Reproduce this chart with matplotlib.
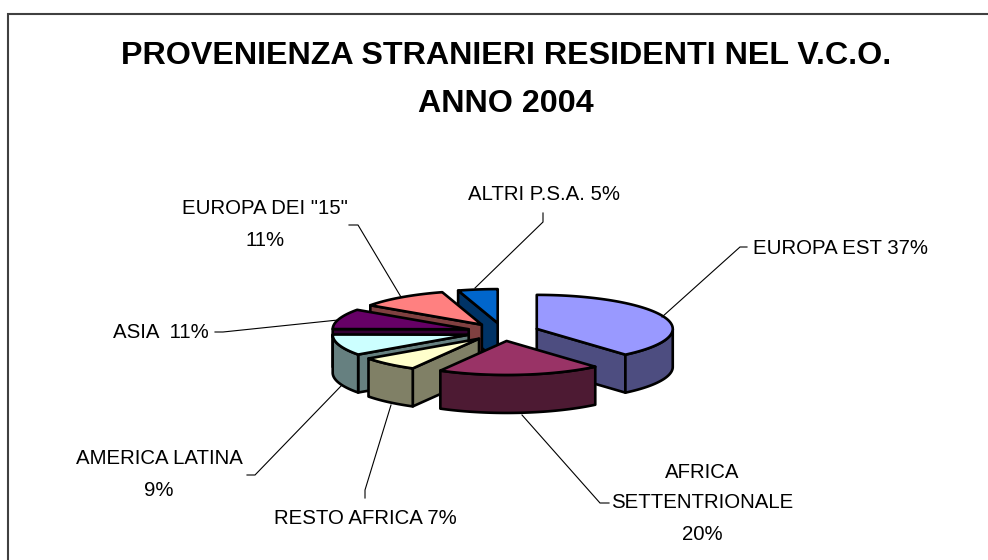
import numpy as np
import matplotlib
matplotlib.use("Agg")
import matplotlib.pyplot as plt

plt.rcParams['font.family'] = ['Liberation Sans', 'DejaVu Sans']

# --- data ---
categories = ['EUROPA EST', 'AFRICA SETTENTRIONALE', 'RESTO AFRICA', 'AMERICA LATINA',
              'ASIA', 'EUROPA DEI "15"', 'ALTRI P.S.A.']
# slice shares as drawn (percent of the circle)
shares = [38.7, 19.4, 7.0, 10.0, 9.6, 10.6, 4.7]
top_colors = ['#9999FF', '#993366', '#FFFFCC', '#CCFFFF', '#660066', '#FF8080', '#0066CC']
side_colors = ['#4D4D80', '#4D1A33', '#808066', '#668080', '#330033', '#804040', '#003366']
label_texts = ['EUROPA EST 37%', 'AFRICA\nSETTENTRIONALE\n20%', 'RESTO AFRICA 7%',
               'AMERICA LATINA\n9%', 'ASIA  11%', 'EUROPA DEI "15"\n11%', 'ALTRI P.S.A. 5%']
title_text = 'PROVENIENZA STRANIERI RESIDENTI NEL V.C.O.\nANNO 2004'

# --- layout (pixels of the 988x560 canvas) ---
CX, CY = 503, 332
RX, RY = 136, 34
DEPTH = 38
EXPLODE = 36
label_xy = [(840.5, 248), (702, 503), (365, 518), (159, 474.5), (160.5, 333), (265, 224.5), (544, 194)]
leaders = [[(662, 317), (740, 247), (747, 247)],
           [(522, 415), (600, 503), (609, 503)],
           [(391, 405), (365, 490), (365, 498)],
           [(342, 385), (255, 475), (247, 475)],
           [(338, 320), (223, 332), (215, 332)],
           [(401, 297), (358, 225), (349, 225)],
           [(475, 288), (543, 222), (543, 213)]]
draw_order = [6, 5, 4, 3, 2, 0, 1]

fig = plt.figure(figsize=(9.88, 5.6), dpi=100, facecolor='white')
ax = fig.add_axes([0, 0, 1, 1])
ax.set_xlim(0, 988)
ax.set_ylim(560, 0)
ax.axis('off')

# chart frame
ax.plot([7.5, 7.5, 988], [560, 14, 14], color='#404040', lw=1.5, solid_joinstyle='miter')

ax.text(506, 80, title_text, ha='center', va='center', fontsize=23.25, fontweight='bold',
        color='black', linespacing=1.8)

edges = np.cumsum([0] + shares) / np.sum(shares) * 360.0


def project(apex, theta_deg):
    t = np.radians(theta_deg)
    return apex[0] + RX * np.sin(t), apex[1] - RY * np.cos(t)


face = dict(edgecolor='black', linewidth=1.9, joinstyle='round')

for i in draw_order:
    t1, t2 = edges[i], edges[i + 1]
    mid = np.radians((t1 + t2) / 2)
    apex = (CX + EXPLODE * np.sin(mid), CY - EXPLODE * RY / RX * np.cos(mid))

    # radial walls that face the viewer
    for t, visible in ((t1, np.sin(np.radians(t1)) < -1e-6), (t2, np.sin(np.radians(t2)) > 1e-6)):
        if visible:
            x, y = project(apex, t)
            ax.fill([apex[0], x, x, apex[0]], [apex[1], y, y + DEPTH, apex[1] + DEPTH],
                    facecolor=side_colors[i], **face)

    # outer wall (front half of the rim)
    a, b = max(t1, 90), min(t2, 270)
    if b > a:
        th = np.linspace(a, b, 60)
        x, y = project(apex, th)
        ax.fill(np.r_[x, x[::-1]], np.r_[y, y[::-1] + DEPTH], facecolor=side_colors[i], **face)

    # top face
    th = np.linspace(t1, t2, 80)
    x, y = project(apex, th)
    ax.fill(np.r_[apex[0], x], np.r_[apex[1], y], facecolor=top_colors[i], **face)

for pts, (lx, ly), txt in zip(leaders, label_xy, label_texts):
    xs, ys = zip(*pts)
    ax.plot(xs, ys, color='black', lw=0.8, solid_joinstyle='miter')
    ax.text(lx, ly, txt, ha='center', va='center', fontsize=14.7, color='black', linespacing=1.8)

fig.savefig('out.png', dpi=100, facecolor='white')
